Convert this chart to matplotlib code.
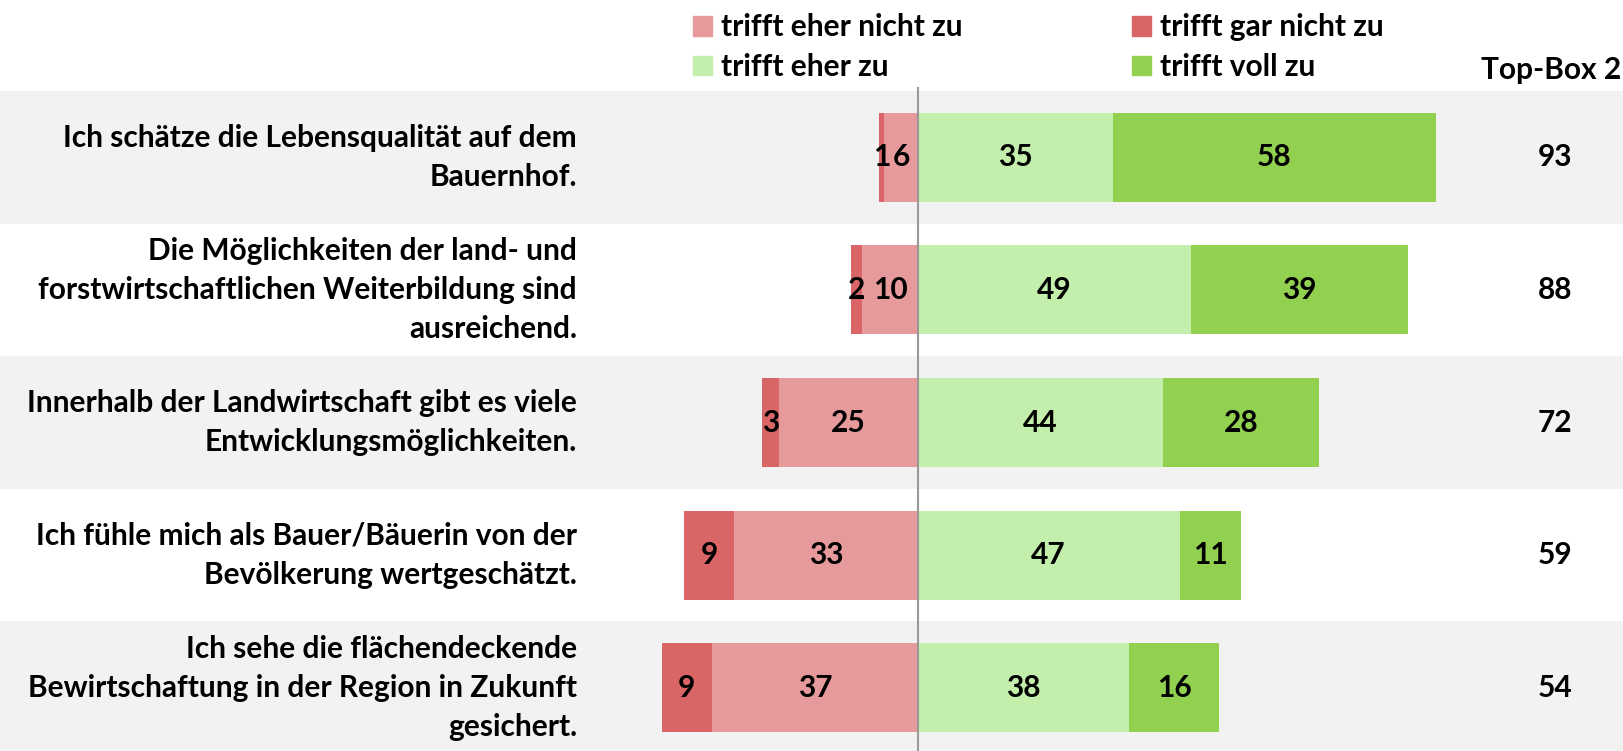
import matplotlib.pyplot as plt
from matplotlib.patches import Patch

plt.rcParams['font.family'] = ['Lato', 'DejaVu Sans']

# Statements (rows, top to bottom)
statements = [
    'Ich schätze die Lebensqualität auf dem\nBauernhof.',
    'Die Möglichkeiten der land- und\nforstwirtschaftlichen Weiterbildung sind\nausreichend.',
    'Innerhalb der Landwirtschaft gibt es viele\nEntwicklungsmöglichkeiten.',
    'Ich fühle mich als Bauer/Bäuerin von der\nBevölkerung wertgeschätzt.',
    'Ich sehe die flächendeckende\nBewirtschaftung in der Region in Zukunft\ngesichert.',
]

# Answer shares in percent
gar_nicht = [1, 2, 3, 9, 9]
eher_nicht = [6, 10, 25, 33, 37]
eher_zu = [35, 49, 44, 47, 38]
voll_zu = [58, 39, 28, 11, 16]
top_box = [93, 88, 72, 59, 54]

# Colors
c_gar = '#d96566'
c_eher_nicht = '#e69a9b'
c_eher_zu = '#c3eeac'
c_voll = '#92d050'
band_color = '#f2f2f2'

fig = plt.figure(figsize=(16.24, 7.51), dpi=100)
ax = fig.add_axes([0, 0, 1, 1])
ax.set_xlim(-164.8, 126.8)
ax.set_ylim(4.477, -1.186)
ax.axis('off')

# Alternating background bands
for i in range(len(statements)):
    if i % 2 == 0:
        ax.axhspan(i - 0.5, i + 0.5, xmin=0, xmax=1, color=band_color, zorder=0, lw=0)

rows = list(range(len(statements)))
h = 0.67
neg_nicht = [-v for v in eher_nicht]

ax.barh(rows, neg_nicht, height=h, color=c_eher_nicht, zorder=2)
ax.barh(rows, [-v for v in gar_nicht], left=neg_nicht, height=h, color=c_gar, zorder=2)
ax.barh(rows, eher_zu, height=h, color=c_eher_zu, zorder=2)
ax.barh(rows, voll_zu, left=eher_zu, height=h, color=c_voll, zorder=2)

fs = 21.5
for i in rows:
    ax.text(-eher_nicht[i] / 2, i, str(eher_nicht[i]), ha='center', va='center',
            fontsize=fs, fontweight='bold', zorder=4)
    ax.text(-eher_nicht[i] - gar_nicht[i] / 2, i, str(gar_nicht[i]), ha='center', va='center',
            fontsize=fs, fontweight='bold', zorder=4)
    ax.text(eher_zu[i] / 2, i, str(eher_zu[i]), ha='center', va='center',
            fontsize=fs, fontweight='bold', zorder=4)
    ax.text(eher_zu[i] + voll_zu[i] / 2, i, str(voll_zu[i]), ha='center', va='center',
            fontsize=fs, fontweight='bold', zorder=4)

# Statement labels and top box values
tr = ax.get_yaxis_transform()
for i, s in enumerate(statements):
    ax.text(577 / 1624, i, s, transform=tr, ha='right', va='center',
            fontsize=fs, fontweight='bold', linespacing=1.47)
    ax.text(1555 / 1624, i, str(top_box[i]), transform=tr, ha='center', va='center',
            fontsize=fs, fontweight='bold')

ax.text(0.998, -0.66, 'Top-Box 2', transform=tr, ha='right', va='center',
        fontsize=fs, fontweight='bold')

# Center line
ax.plot([0, 0], [-0.52, 4.477], color='#999999', lw=1.5, zorder=3)

# Legend
handles = [Patch(color=c_eher_nicht), Patch(color=c_eher_zu),
           Patch(color=c_gar), Patch(color=c_voll)]
labels = ['trifft eher nicht zu', 'trifft eher zu', 'trifft gar nicht zu', 'trifft voll zu']
fig.legend(handles, labels, ncol=2, loc='upper left',
           bbox_to_anchor=(666 / 1624, 1.018), frameon=False,
           prop={'size': fs, 'weight': 'bold'}, handlelength=0.65, handleheight=0.65,
           handletextpad=0.3, columnspacing=5.65, labelspacing=0.39)

fig.savefig('out.png', dpi=100)
